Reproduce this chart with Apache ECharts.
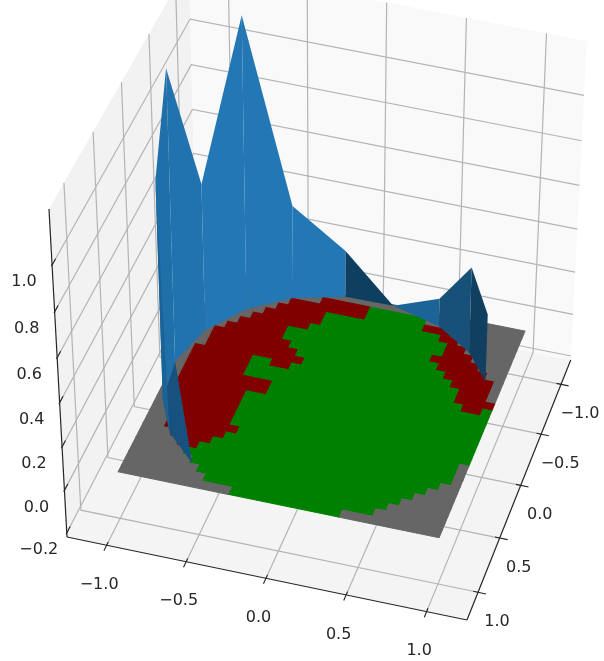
<!DOCTYPE html>
<html><head><meta charset="utf-8">
<style>html,body{margin:0;padding:0;background:#fff}#c{width:604px;height:661px;filter:blur(0.4px)}</style>
<script src="https://cdn.jsdelivr.net/npm/echarts@6/dist/echarts.min.js"></script>
</head><body><div id="c"></div>
<script>
const xTicks=[-1,-0.5,0,0.5,1];
const xLabels=['\u22121.0','\u22120.5','0.0','0.5','1.0'];
const yTicks=[-1,-0.5,0,0.5,1];
const yLabels=['\u22121.0','\u22120.5','0.0','0.5','1.0'];
const zTicks=[-0.2,0,0.2,0.4,0.6,0.8,1.0];
const zLabels=['\u22120.2','0.0','0.2','0.4','0.6','0.8','1.0'];
// floor map, front row first: runs of gray(.), green(G), red(R) over 32 columns
const floorRows=[
'11. 11G 10.','8. 17G 7.','7. 19G 6.','6. 21G 5.','5. 23G 4.',
'4. 2R 23G 3.','3. 4R 23G 2.','2. 6R 23G 1.','2. 7R 22G 1.','2. 6R 23G 1.',
'1. 7R 24G','1. 7R 24G','1. 7R 24G','1. 7R 24G',
'1. 9R 22G','1. 9R 22G','1. 6R 25G','1. 6R 22G 2R 1G',
'1. 6R 2G 2R 17G 4R','2. 10R 16G 3R 1.','2. 9R 16G 4R 1.','2. 8R 16G 5R 1.',
'3. 6R 16G 5R 2.','4. 5R 15G 5R 3.','5. 6R 14G 3R 4.','6. 6R 13G 2R 5.',
'7. 5R 12G 2R 6.','8. 8R 6G 3R 7.','11. 5R 6G 10.','32.'];
// raised ring: angle around the disc (deg) and height at each angle
const wallAngles=[127,145,163,184,204,223,241,260,278,298,316,333];
const wallTops=[0,0,0.982,1.298,0.669,1.31,0.427,0.215,0,0.13,0.396,0.314];
const wallShades=['#17527e','#1b6296','#1f6fa9','#2073ae','#2277b4','#2277b4','#2277b4','#0f3f60','#1c6398','#175078','#113f60'];
const wallOrder=[3,4,5,6,7,8,9,10,2,1];
const capAngles=[127,145,163,184];

const FLOORC={'.':'#666666',G:'#008000',R:'#800000'};
const LIM=1.25,ZMIN=-0.219,ZMAX=1.235;
const O=[67,537],PA=[395.3,76.8],PB=[144.4,-231.2],PC=[-21.2,-341.6],WA=-0.01,WB=0.073,WC=-0.065;
function project(u,v,z){
  const a=(u+LIM)/(2*LIM),b=(LIM-v)/(2*LIM),c=(z-ZMIN)/(ZMAX-ZMIN);
  const w=1+a*WA+b*WB+c*WC;
  return [(O[0]+a*PA[0]+b*PB[0]+c*PC[0])/w,(O[1]+a*PA[1]+b*PB[1]+c*PC[1])/w];
}
const ring=(deg,z)=>{const t=deg*Math.PI/180;return [Math.cos(t),Math.sin(t),z];};

// layers
const panes=[
 {pts:[[-LIM,LIM,ZMIN],[-LIM,-LIM,ZMIN],[-LIM,-LIM,ZMAX],[-LIM,LIM,ZMAX]],fill:'#f2f2f2'},
 {pts:[[-LIM,-LIM,ZMIN],[LIM,-LIM,ZMIN],[LIM,-LIM,ZMAX],[-LIM,-LIM,ZMAX]],fill:'#f9f9f9'},
 {pts:[[-LIM,LIM,ZMIN],[LIM,LIM,ZMIN],[LIM,-LIM,ZMIN],[-LIM,-LIM,ZMIN]],fill:'#f4f4f4'}];
const gridLines=[];
xTicks.forEach(t=>{gridLines.push([[t,LIM,ZMIN],[t,-LIM,ZMIN],[t,-LIM,ZMAX]]);});
yTicks.forEach(t=>{gridLines.push([[LIM,t,ZMIN],[-LIM,t,ZMIN],[-LIM,t,ZMAX]]);});
zTicks.forEach(t=>{gridLines.push([[-LIM,LIM,t],[-LIM,-LIM,t],[LIM,-LIM,t]]);});
const floorPolys=[];
floorRows.forEach((row,j)=>{
  let c=0;
  row.split(' ').forEach(run=>{
    const n=parseInt(run),k=run.slice(-1);
    const u0=-1+2*c/32,u1=-1+2*(c+n)/32,v0=1-2*j/30,v1=1-2*(j+1)/30;
    floorPolys.push({pts:[[u0,v0,0],[u1,v0,0],[u1,v1,0],[u0,v1,0]],fill:FLOORC[k]});
    c+=n;
  });
});
floorPolys.reverse();
const wallPolys=[{pts:capAngles.map(d=>ring(d,0)),fill:wallShades[0]}];
wallOrder.forEach(k=>{
  wallPolys.push({pts:[ring(wallAngles[k],0),ring(wallAngles[k+1],0),ring(wallAngles[k+1],wallTops[k+1]),ring(wallAngles[k],wallTops[k])],fill:wallShades[k]});
});
const axisLines=[[[-LIM,LIM,ZMIN],[-LIM,LIM,ZMAX]],[[-LIM,LIM,ZMIN],[LIM,LIM,ZMIN]],[[LIM,LIM,ZMIN],[LIM,-LIM,ZMIN]]];
const tickMarks=[];
xTicks.forEach(t=>tickMarks.push([[t,LIM+0.05,ZMIN],[t,LIM-0.03,ZMIN]]));
yTicks.forEach(t=>tickMarks.push([[LIM-0.03,t,ZMIN],[LIM+0.05,t,ZMIN]]));
zTicks.forEach(t=>tickMarks.push([[-LIM,LIM+0.012,t],[-LIM,LIM-0.06,t]]));
const labels=[];
xTicks.forEach((t,i)=>labels.push({at:[t,LIM,ZMIN],dx:-7.5,dy:39.5,text:xLabels[i]}));
yTicks.forEach((t,i)=>labels.push({at:[LIM,t,ZMIN],dx:19,dy:30,text:yLabels[i]}));
zTicks.forEach((t,i)=>labels.push({at:[-LIM,LIM,t],dx:-28,dy:17,text:zLabels[i]}));

const toPx=(api,p)=>api.coord(project(p[0],p[1],p[2]));
function polySeries(list,strokeW){return {type:'custom',coordinateSystem:'cartesian2d',silent:true,clip:false,
  data:list.map((_,i)=>[i]),
  renderItem:(params,api)=>{const d=list[api.value(0)];
    return {type:'polygon',shape:{points:d.pts.map(p=>toPx(api,p))},style:{fill:d.fill,stroke:strokeW?d.fill:null,lineWidth:strokeW}};}};}
function lineSeries(list,color,width){return {type:'custom',coordinateSystem:'cartesian2d',silent:true,clip:false,
  data:list.map((_,i)=>[i]),
  renderItem:(params,api)=>{const d=list[api.value(0)];
    return {type:'polyline',shape:{points:d.map(p=>toPx(api,p))},style:{fill:null,stroke:color,lineWidth:width}};}};}
const labelSeries={type:'custom',coordinateSystem:'cartesian2d',silent:true,clip:false,
  data:labels.map((_,i)=>[i]),
  renderItem:(params,api)=>{const d=labels[api.value(0)],q=toPx(api,d.at);
    return {type:'text',x:q[0]+d.dx,y:q[1]+d.dy,style:{text:d.text,font:'16px "DejaVu Sans"',fill:'#262626',align:'center',verticalAlign:'middle'}};}};

const chart=echarts.init(document.getElementById('c'),null,{renderer:'canvas'});
chart.setOption({animation:false,backgroundColor:'#fff',
  grid:{left:0,right:0,top:0,bottom:0},
  xAxis:{type:'value',min:0,max:604,show:false},
  yAxis:{type:'value',min:0,max:661,inverse:true,show:false},
  series:[polySeries(panes,0),lineSeries(gridLines,'#b4b4b4',1.2),polySeries(floorPolys,1.1),polySeries(wallPolys,0),
    lineSeries(axisLines,'#262626',1.2),lineSeries(tickMarks,'#262626',1.1),labelSeries]});
</script></body></html>
